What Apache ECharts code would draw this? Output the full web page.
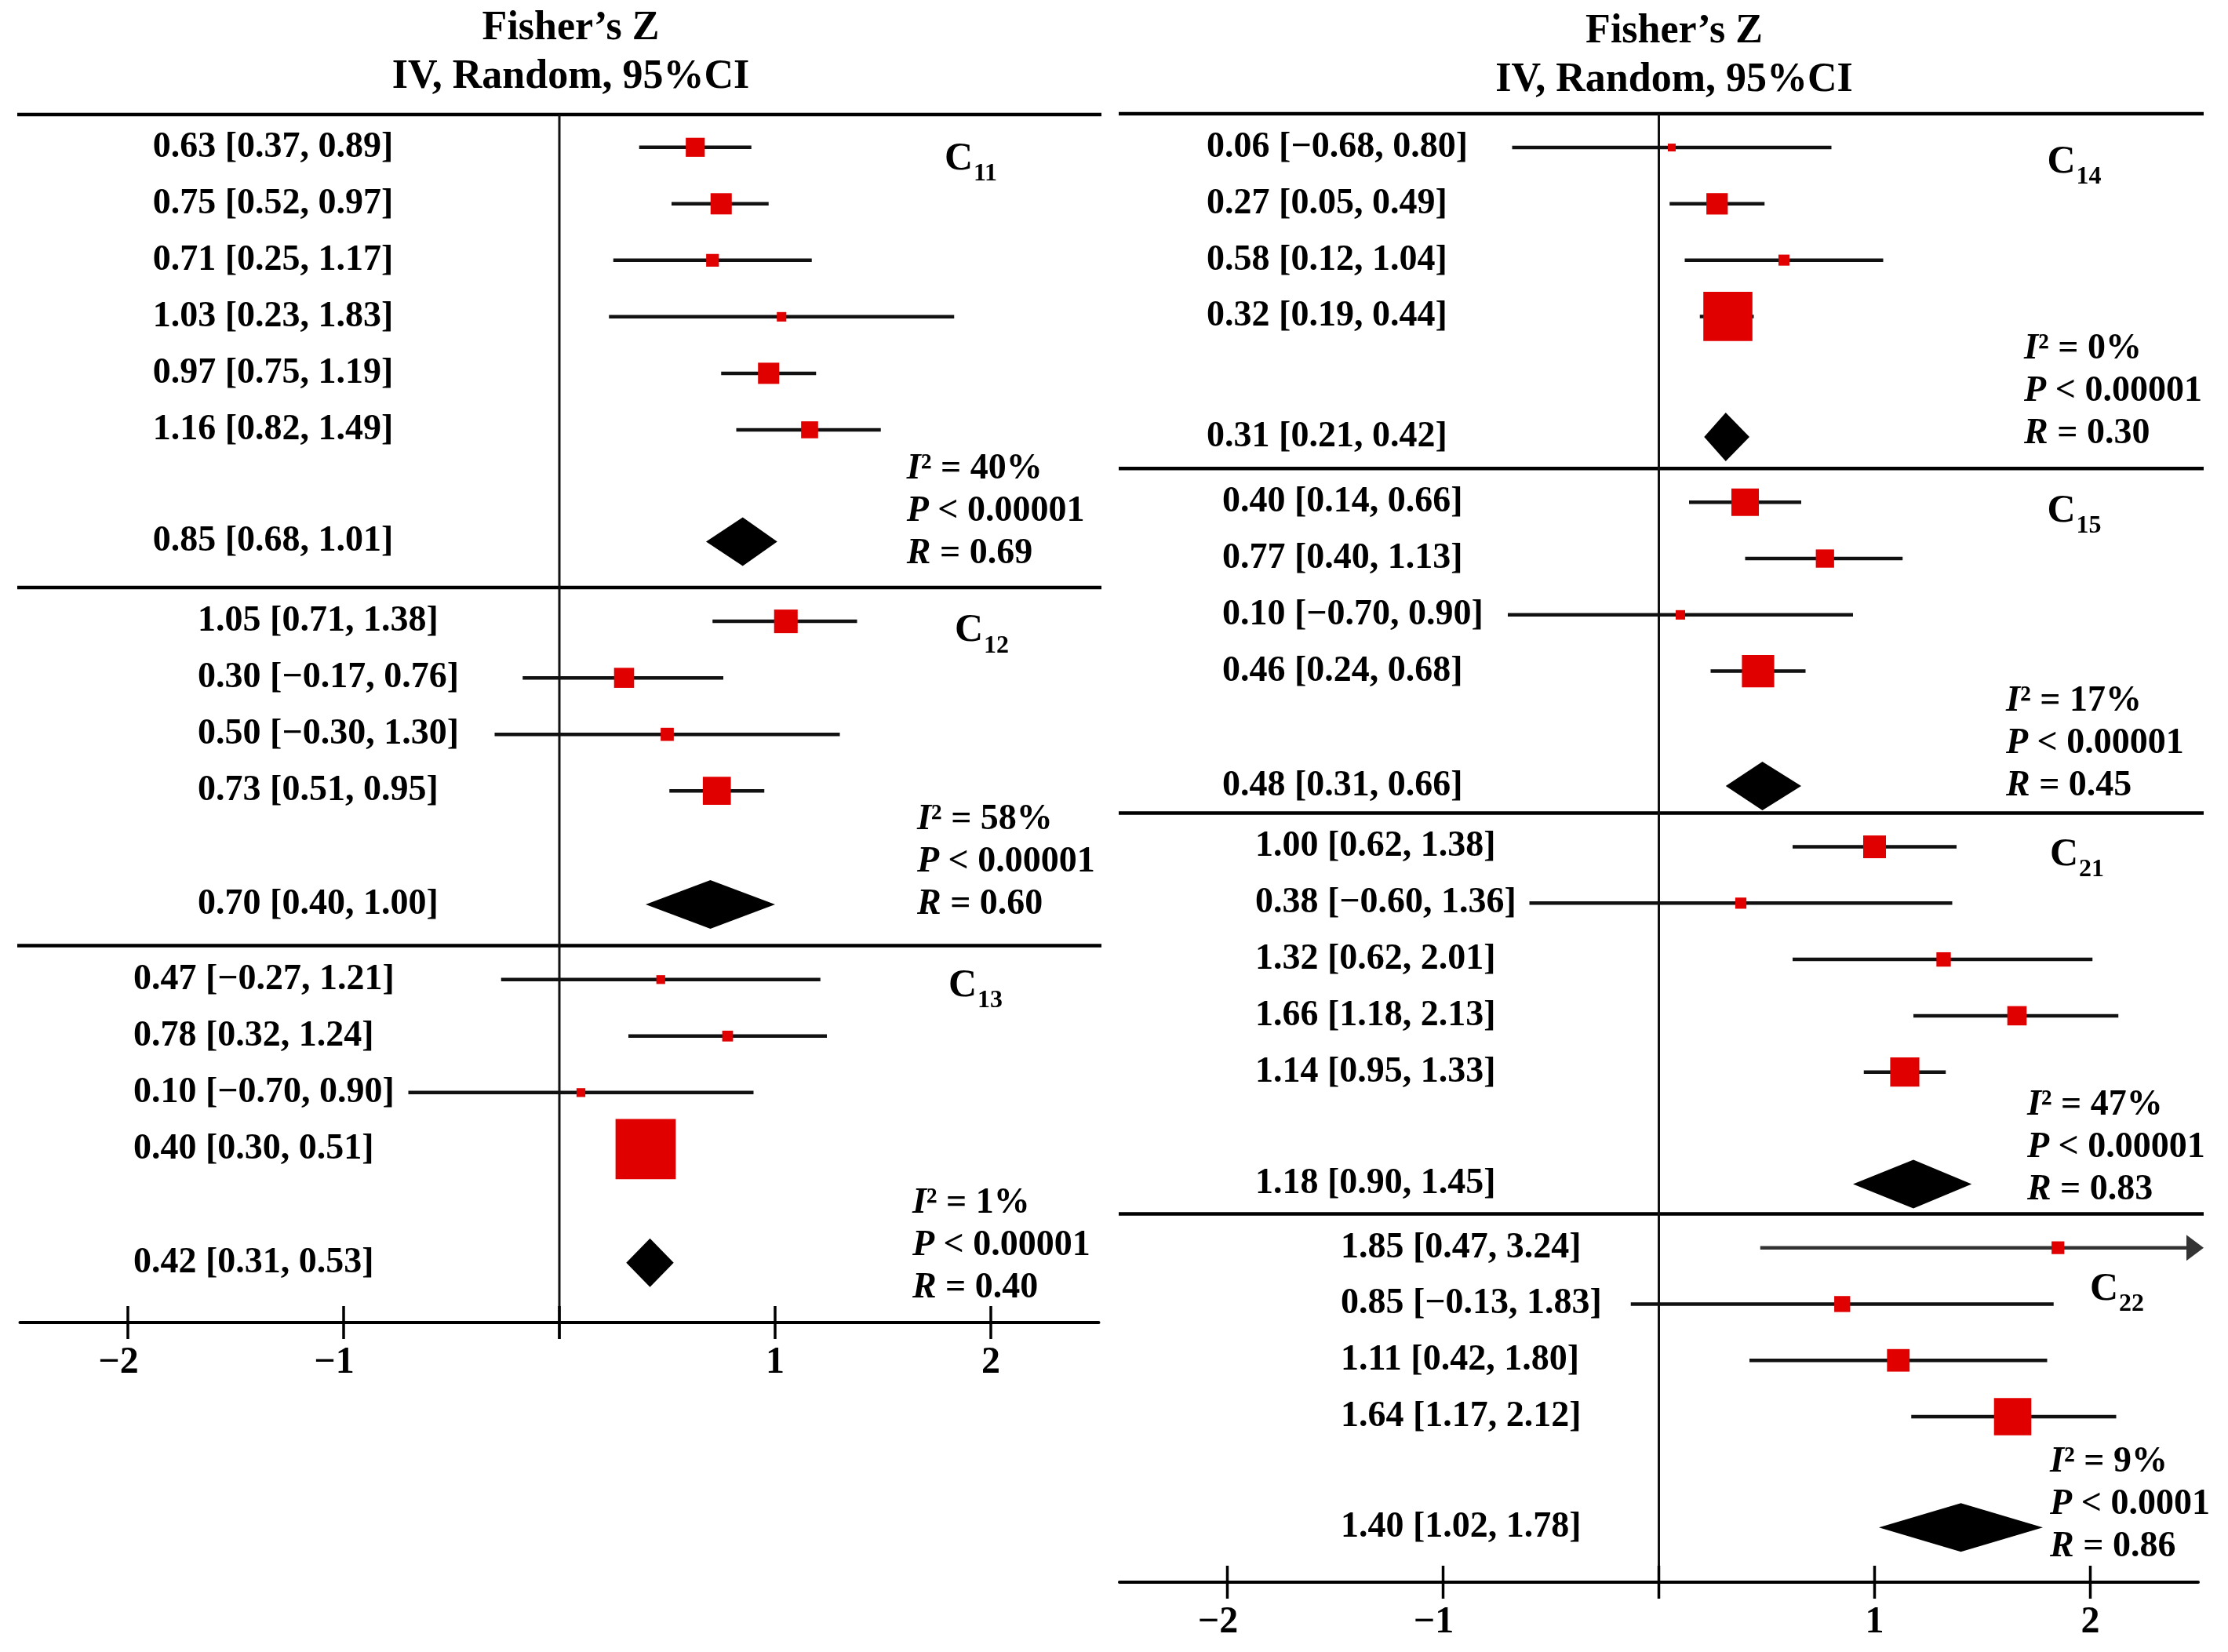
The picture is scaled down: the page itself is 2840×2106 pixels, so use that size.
<!DOCTYPE html>
<html>
<head>
<meta charset="utf-8">
<title>Fisher's Z forest plot</title>
<script src="https://cdn.jsdelivr.net/npm/echarts@6/dist/echarts.min.js"></script>
<style>
html, body { margin: 0; padding: 0; background: #fff; }
#main { width: 2840px; height: 2106px; }
</style>
</head>
<body>
<div id="main"></div>
<script>
// subgroups
const groupNames = ['C11', 'C12', 'C13', 'C14', 'C15', 'C21', 'C22'];

// studies: Fisher's Z, 95% CI, weight (%)
const c11Est = [0.63, 0.75, 0.71, 1.03, 0.97, 1.16];
const c11Low = [0.37, 0.52, 0.25, 0.23, 0.75, 0.82];
const c11High = [0.89, 0.97, 1.17, 1.83, 1.19, 1.49];
const c11Weight = [20, 25, 9, 5, 25, 16];

const c12Est = [1.05, 0.30, 0.50, 0.73];
const c12Low = [0.71, -0.17, -0.30, 0.51];
const c12High = [1.38, 0.76, 1.30, 0.95];
const c12Weight = [29, 21, 9, 41];

const c13Est = [0.47, 0.78, 0.10, 0.40];
const c13Low = [-0.27, 0.32, -0.70, 0.30];
const c13High = [1.21, 1.24, 0.90, 0.51];
const c13Weight = [2, 3, 2, 93];

const c14Est = [0.06, 0.27, 0.58, 0.32];
const c14Low = [-0.68, 0.05, 0.12, 0.19];
const c14High = [0.80, 0.49, 1.04, 0.44];
const c14Weight = [2, 15, 4, 79];

const c15Est = [0.40, 0.77, 0.10, 0.46];
const c15Low = [0.14, 0.40, -0.70, 0.24];
const c15High = [0.66, 1.13, 0.90, 0.68];
const c15Weight = [34, 15, 4, 47];

const c21Est = [1.00, 0.38, 1.32, 1.66, 1.14];
const c21Low = [0.62, -0.60, 0.62, 1.18, 0.95];
const c21High = [1.38, 1.36, 2.01, 2.13, 1.33];
const c21Weight = [25, 6, 10, 18, 41];

const c22Est = [1.85, 0.85, 1.11, 1.64];
const c22Low = [0.47, -0.13, 0.42, 1.17];
const c22High = [3.24, 1.83, 1.80, 2.12];
const c22Weight = [7, 11, 22, 60];

// pooled (random effects) per subgroup
const pooledEst = [0.85, 0.70, 0.42, 0.31, 0.48, 1.18, 1.40];
const pooledLow = [0.68, 0.40, 0.31, 0.21, 0.31, 0.90, 1.02];
const pooledHigh = [1.01, 1.00, 0.53, 0.42, 0.66, 1.45, 1.78];

// heterogeneity / test / r
const i2Values = ['40%', '58%', '1%', '0%', '17%', '47%', '9%'];
const pValues = ['0.00001', '0.00001', '0.00001', '0.00001', '0.00001', '0.00001', '0.0001'];
const rValues = ['0.69', '0.60', '0.40', '0.30', '0.45', '0.83', '0.86'];

// x axis
const xTicks = [-2, -1, 0, 1, 2];
const X_MIN = -2.5, X_MAX = 2.5;

const studyEst = [c11Est, c12Est, c13Est, c14Est, c15Est, c21Est, c22Est];
const studyLow = [c11Low, c12Low, c13Low, c14Low, c15Low, c21Low, c22Low];
const studyHigh = [c11High, c12High, c13High, c14High, c15High, c21High, c22High];
const studyWeight = [c11Weight, c12Weight, c13Weight, c14Weight, c15Weight, c21Weight, c22Weight];

// ---- layout ----
const FONT = 'Liberation Serif';
const RED = '#e00000';
const panels = [
    { groups: [0, 1, 2], grid: { left: 25.5, top: 146, width: 1375, height: 1540 },
      first: 0.58, afterSep: 0.6, bottom: 1.06, ext: [-3.5, 3.5], titleX: 727.5, titleY: 37 },
    { groups: [3, 4, 5, 6], grid: { left: 1427, top: 145, width: 1375, height: 1872 },
      first: 0.6, afterSep: 0.6, bottom: 0.97, ext: [-1, 7], titleX: 2134, titleY: 41 }
];
// per subgroup spacing (rows): last study -> pooled, pooled -> separator
const pooledGap = [1.98, 2.01, 2.01, 2.14, 2.04, 1.99, 1.97];
const sepGap = [0.81, 0.73, 0, 0.56, 0.48, 0.53, 0];
// per subgroup text columns (axis units) and vertical offsets (rows)
const labelX = [-1.885, -1.676, -1.975, -2.096, -2.024, -1.871, -1.475];
const statsX = [1.61, 1.658, 1.636, 1.693, 1.609, 1.707, 1.813];
const statsDy = [0.22, 0.0, 0.45, -0.05, 0.0, 0.1, 0.35];
const nameX = [1.785, 1.833, 1.804, 1.80, 1.80, 1.813, 1.998];
const nameDy = [0.21, 0.17, 0.11, 0.26, 0.16, 0.14, 0.74];
const boxScale = [5.41, 5.58, 7.96, 7.04, 6.01, 5.80, 6.14];

function fmt(v) {
    return v.toFixed(2).replace('-', '\u2212');
}
function ciText(e, l, h) {
    return fmt(e) + ' [' + fmt(l) + ', ' + fmt(h) + ']';
}
function txt(x, y, text, size, extra) {
    const st = {
        text: text, fill: '#000', fontFamily: FONT, fontWeight: 'bold', fontSize: size,
        align: 'left', verticalAlign: 'middle', textAlign: 'left', textVerticalAlign: 'middle'
    };
    if (extra) Object.assign(st, extra);
    return { type: 'text', x: x, y: y, style: st };
}
function line(x1, y1, x2, y2, w, c) {
    return { type: 'line', shape: { x1: x1, y1: y1, x2: x2, y2: y2 }, style: { stroke: c || '#000', lineWidth: w } };
}

// rows
panels.forEach(function (p) {
    let s = p.first;
    p.studies = [];
    p.pooled = [];
    p.seps = [];
    p.groups.forEach(function (g, k) {
        const n = studyEst[g].length;
        for (let i = 0; i < n; i++) {
            p.studies.push([studyEst[g][i], studyLow[g][i], studyHigh[g][i], s + i, studyWeight[g][i], g]);
        }
        const yp = s + n - 1 + pooledGap[g];
        p.pooled.push([pooledEst[g], pooledLow[g], pooledHigh[g], yp, g, s]);
        if (k < p.groups.length - 1) {
            p.seps.push(yp + sepGap[g]);
            s = yp + sepGap[g] + p.afterSep;
        } else {
            p.yMax = yp + p.bottom;
        }
    });
});

function renderFrame(p) {
    return function (params, api) {
        const cs = params.coordSys;
        const x1 = cs.x + p.ext[0], x2 = cs.x + cs.width + p.ext[1];
        const kids = [];
        kids.push(line(x1, cs.y, x2, cs.y, 4.5));
        p.seps.forEach(function (v) {
            const yy = api.coord([0, v])[1];
            kids.push(line(x1, yy, x2, yy, 4.5));
        });
        const x0 = api.coord([0, 0])[0];
        const yb = cs.y + cs.height;
        kids.push(line(x0, cs.y, x0, yb + 21, 3, '#111'));
        xTicks.forEach(function (t) {
            const xx = api.coord([t, 0])[0];
            kids.push(line(xx, yb - 21, xx, yb + 21, 3.5));
        });
        return { type: 'group', children: kids };
    };
}

function renderStudy(params, api) {
    const est = api.value(0), lo = api.value(1), hi = api.value(2);
    const y = api.value(3), w = api.value(4), g = api.value(5);
    const cs = params.coordSys;
    const c = api.coord([est, y]);
    const xLo = api.coord([lo, y])[0];
    const over = hi > X_MAX;
    const xHi = over ? cs.x + cs.width + 7 : api.coord([hi, y])[0];
    const side = boxScale[g] * Math.sqrt(w);
    const kids = [];
    kids.push(line(xLo, c[1], over ? xHi - 18 : xHi, c[1], 4.5, over ? '#333' : '#111'));
    if (over) {
        kids.push({ type: 'polygon', shape: { points: [[xHi, c[1]], [xHi - 22, c[1] - 16.5], [xHi - 22, c[1] + 16.5]] },
            style: { fill: '#333' } });
    }
    kids.push({ type: 'rect', shape: { x: c[0] - side / 2, y: c[1] - side / 2, width: side, height: side },
        style: { fill: RED } });
    kids.push(txt(api.coord([labelX[g], y])[0], c[1], ciText(est, lo, hi), 46));
    return { type: 'group', children: kids };
}

const richStats = {
    it: { fontFamily: FONT, fontWeight: 'bold', fontStyle: 'italic', fontSize: 46, fill: '#000' },
    n: { fontFamily: FONT, fontWeight: 'bold', fontSize: 46, fill: '#000' }
};

function renderPooled(params, api) {
    const est = api.value(0), lo = api.value(1), hi = api.value(2);
    const y = api.value(3), g = api.value(4), yFirst = api.value(5);
    const c = api.coord([est, y]);
    const xLo = api.coord([lo, y])[0];
    const xHi = api.coord([hi, y])[0];
    const h = 31;
    const kids = [];
    kids.push({ type: 'polygon', shape: { points: [[xLo, c[1]], [c[0], c[1] - h], [xHi, c[1]], [c[0], c[1] + h]] },
        style: { fill: '#000' } });
    kids.push(txt(api.coord([labelX[g], y])[0], c[1], ciText(est, lo, hi), 46));

    // heterogeneity block
    const sx = api.coord([statsX[g], y])[0];
    const rowPx = api.coord([0, 1])[1] - api.coord([0, 0])[1];
    const yR = c[1] + statsDy[g] * rowPx;
    kids.push(txt(sx, yR - 108, '{it|I}{n|\u00b2 = ' + i2Values[g] + '}', 46, { rich: richStats }));
    kids.push(txt(sx, yR - 54, '{it|P}{n| < ' + pValues[g] + '}', 46, { rich: richStats }));
    kids.push(txt(sx, yR, '{it|R}{n| = ' + rValues[g] + '}', 46, { rich: richStats }));

    // subgroup name with subscript
    const np = api.coord([nameX[g], yFirst + nameDy[g]]);
    kids.push(txt(np[0], np[1], 'C', 50));
    kids.push(txt(np[0] + 37, np[1] + 19, groupNames[g].slice(1), 32));
    return { type: 'group', children: kids };
}

function axisLabelFmt(v) {
    if (Math.abs(v - Math.round(v)) > 1e-6 || Math.round(v) === 0) return '';
    const r = Math.round(v);
    return r < 0 ? '\u2212' + Math.abs(r) + '  ' : String(r);
}

const grids = [], xAxes = [], yAxes = [], series = [], graphics = [];
panels.forEach(function (p, i) {
    grids.push(p.grid);
    xAxes.push({
        gridIndex: i, type: 'value', min: X_MIN, max: X_MAX, interval: 0.5,
        axisLine: { show: true, onZero: false, lineStyle: { color: '#000', width: 4 } },
        axisTick: { show: false },
        splitLine: { show: false },
        axisLabel: { formatter: axisLabelFmt, fontFamily: FONT, fontWeight: 'bold', fontSize: 48, color: '#000', margin: 28 }
    });
    yAxes.push({ gridIndex: i, type: 'value', min: 0, max: p.yMax, inverse: true, show: false });
    series.push({ type: 'custom', xAxisIndex: i, yAxisIndex: i, data: [[0, 0]], renderItem: renderFrame(p), silent: true });
    series.push({ type: 'custom', xAxisIndex: i, yAxisIndex: i, data: p.studies, encode: { x: 0, y: 3 }, renderItem: renderStudy, silent: true });
    series.push({ type: 'custom', xAxisIndex: i, yAxisIndex: i, data: p.pooled, encode: { x: 0, y: 3 }, renderItem: renderPooled, silent: true });
    graphics.push({ type: 'text', x: p.titleX, y: p.titleY,
        style: { text: 'Fisher\u2019s Z', font: 'bold 52px "Liberation Serif"', fill: '#000',
            textAlign: 'center', textVerticalAlign: 'middle', align: 'center', verticalAlign: 'middle' } });
    graphics.push({ type: 'text', x: p.titleX, y: p.titleY + 62,
        style: { text: 'IV, Random, 95%CI', font: 'bold 52px "Liberation Serif"', fill: '#000',
            textAlign: 'center', textVerticalAlign: 'middle', align: 'center', verticalAlign: 'middle' } });
});

const chart = echarts.init(document.getElementById('main'), null, { renderer: 'canvas', devicePixelRatio: 1 });
chart.setOption({
    backgroundColor: '#fff',
    animation: false,
    grid: grids,
    xAxis: xAxes,
    yAxis: yAxes,
    graphic: graphics,
    series: series
});
</script>
</body>
</html>
